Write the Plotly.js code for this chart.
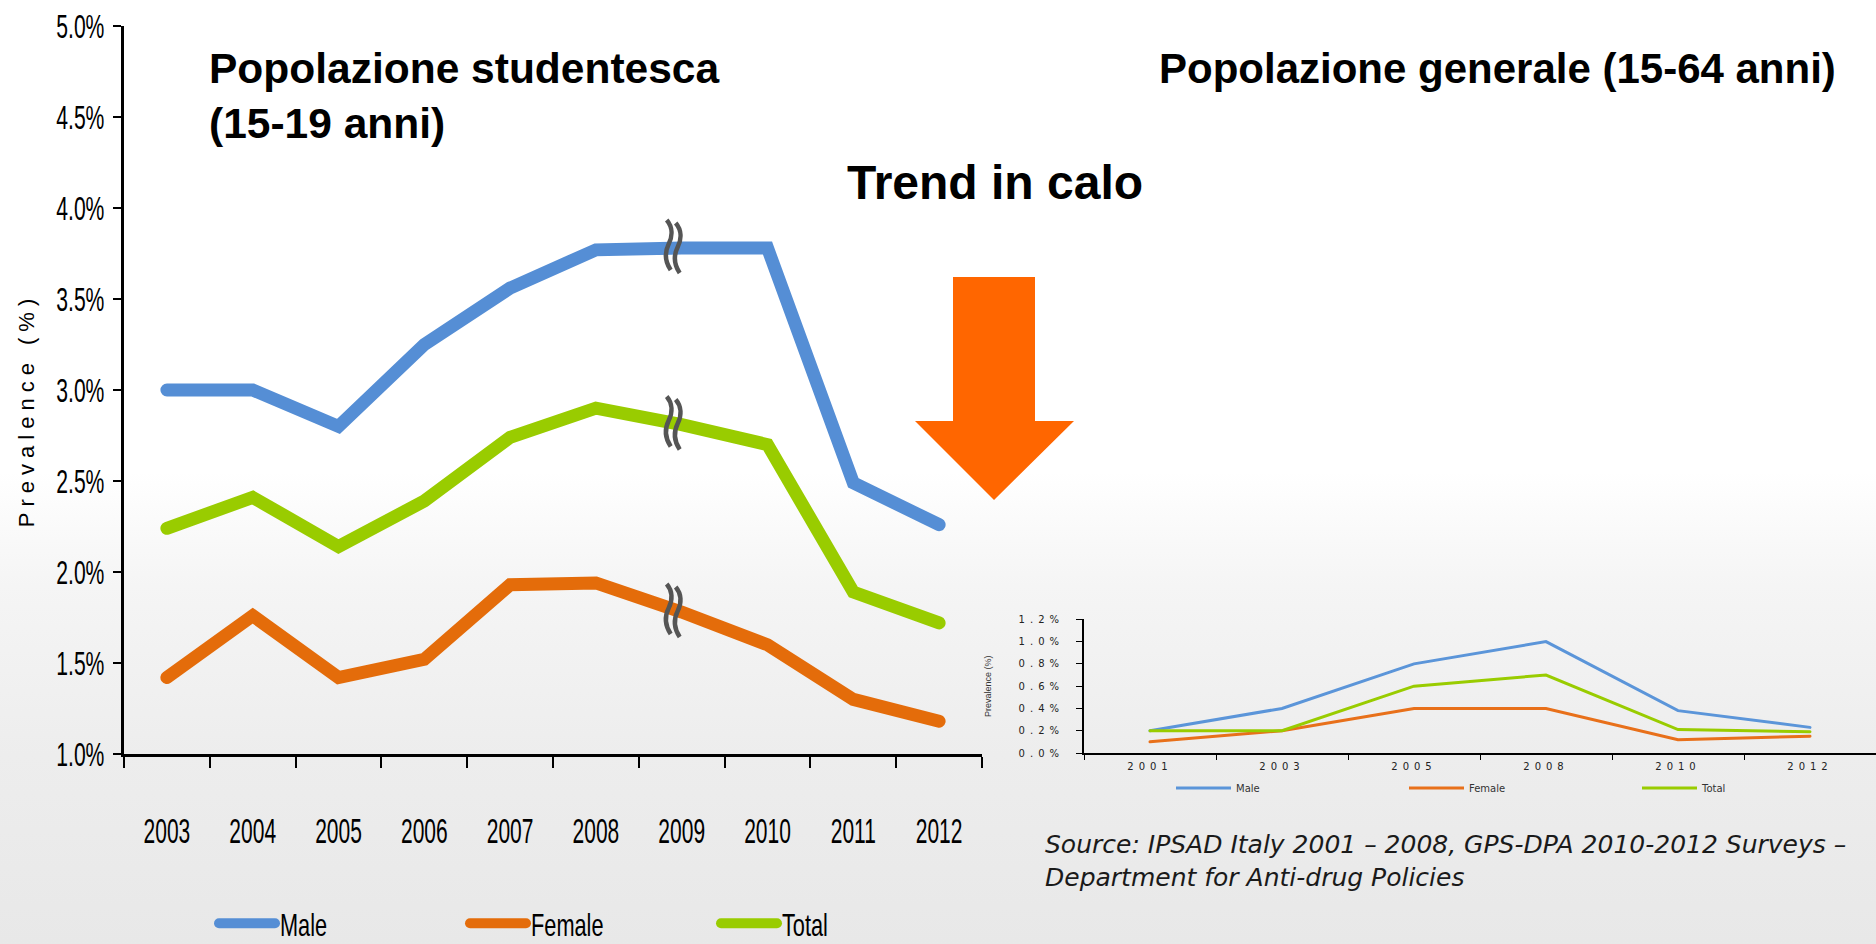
<!DOCTYPE html>
<html><head><meta charset="utf-8">
<script src="https://cdn.plot.ly/plotly-3.0.1.min.js"></script>
<style>
html,body{margin:0;padding:0;}
body{width:1876px;height:944px;overflow:hidden;background:linear-gradient(to bottom,#ffffff 0%,#ffffff 50%,#f5f5f5 62%,#ededed 80%,#e8e8e8 100%);}
#chart{width:1876px;height:944px;}
.ytitle{letter-spacing:6px;translate:0 20px;}
g.xtick{transform:scaleX(0.6);transform-box:fill-box;transform-origin:center center;}
g.ytick{transform:scaleX(0.64);transform-box:fill-box;transform-origin:right center;}
g.x2tick text,g.y2tick text{letter-spacing:5px;}
g.legend:not(.legend2) .legendtext{transform:translateY(7px) scaleX(0.68);transform-box:fill-box;transform-origin:left center;}
g.legend:not(.legend2) .legendlines path{transform:translateY(7px);stroke-linecap:round;}
.legend2 .legendtext{letter-spacing:4.5px;}
.scatterlayer .js-line{stroke-linecap:round;}
</style></head>
<body><div id="chart"></div>
<script>
// Main chart: student population (15-19)
const years = ['2003','2004','2005','2006','2007','2008','2009','2010','2011','2012'];
const male = [3.00,3.00,2.80,3.25,3.56,3.77,3.78,3.78,2.49,2.26];
const female = [1.42,1.76,1.42,1.52,1.93,1.94,1.78,1.60,1.30,1.18];
const total = [2.24,2.41,2.14,2.39,2.74,2.90,2.81,2.70,1.89,1.72];
const breakYear = '2009';

// Inset chart: general population (15-64)
const insetYears = ['2001','2003','2005','2008','2010','2012'];
const insetMale = [0.20,0.40,0.80,1.00,0.38,0.23];
const insetFemale = [0.10,0.20,0.40,0.40,0.12,0.15];
const insetTotal = [0.20,0.20,0.60,0.70,0.21,0.19];

const seriesNames = ['Male','Female','Total'];
const colors = ['#558ED5','#E46C0A','#99CC00'];
const insetColors = ['#5B95D9','#E8701A','#99CC00'];

const arial = 'Liberation Sans, Arial, sans-serif';
const dejavu = 'DejaVu Sans, Verdana, sans-serif';

const mainSeries = [male, female, total];
const insetSeries = [insetMale, insetFemale, insetTotal];

const traces = [];
mainSeries.forEach((s,i)=>{
  traces.push({type:'scatter',mode:'lines',x:years,y:s,name:seriesNames[i],
    line:{color:colors[i],width:13},xaxis:'x',yaxis:'y',legend:'legend',hoverinfo:'x+y+name'});
});
insetSeries.forEach((s,i)=>{
  traces.push({type:'scatter',mode:'lines',x:insetYears,y:s,name:seriesNames[i],
    line:{color:insetColors[i],width:3},xaxis:'x2',yaxis:'y2',legend:'legend2',hoverinfo:'x+y+name'});
});

// figure pixel -> paper fraction (margins are zero, so paper = whole figure)
const FW=1876, FH=944;
const px = v => v/FW;
const py = v => 1 - v/FH;

const annotations = [
  {text:'Popolazione studentesca<br>(15-19 anni)',xref:'paper',yref:'paper',x:px(207),y:py(96),
   xanchor:'left',yanchor:'middle',align:'left',showarrow:false,
   font:{family:arial,size:42.5,color:'#000',weight:'bold'}},
  {text:'Popolazione generale (15-64 anni)',xref:'paper',yref:'paper',x:px(1497),y:py(69),
   xanchor:'center',yanchor:'middle',showarrow:false,
   font:{family:arial,size:42,color:'#000',weight:'bold'}},
  {text:'Trend in calo',xref:'paper',yref:'paper',x:px(995),y:py(182),
   xanchor:'center',yanchor:'middle',showarrow:false,
   font:{family:arial,size:48,color:'#000',weight:'bold'}},
  {text:'Source: IPSAD Italy 2001 \u2013 2008, GPS-DPA 2010-2012 Surveys \u2013<br>Department for Anti-drug Policies',
   xref:'paper',yref:'paper',x:px(1043),y:py(861),xanchor:'left',yanchor:'middle',align:'left',showarrow:false,
   font:{family:dejavu,size:25,color:'#1a1a1a',style:'italic'}}
];

// axis-break squiggles drawn on each line at the break year (pixel-sized, anchored to data)
const squiggle = 'M-2,25 C4,18 4,9 0,1 C-4,-7 -4,-16 2,-25';
const shapes = [];
const bIdx = years.indexOf(breakYear);
mainSeries.forEach(s=>{
  [-13,-4].forEach((dx,k)=>{
    shapes.push({type:'path',xref:'x',yref:'y',xsizemode:'pixel',ysizemode:'pixel',
      xanchor:bIdx,yanchor:s[bIdx],
      path:squiggle.replace(/(-?\d+),(-?\d+)/g,(m,a,b)=>(+a+dx)+','+(+b+3-k*3)),
      line:{color:'#555555',width:4.5},fillcolor:'rgba(0,0,0,0)'});
  });
});
// orange arrow
shapes.push({type:'path',xref:'paper',yref:'paper',
   path:`M${px(953)},${py(277)} L${px(1035)},${py(277)} L${px(1035)},${py(421)} L${px(1074)},${py(421)} L${px(994)},${py(500)} L${px(915)},${py(421)} L${px(953)},${py(421)} Z`,
   fillcolor:'#FF6600',line:{width:0}});

const layout = {
  width:FW,height:FH,
  margin:{l:0,r:0,t:0,b:0,pad:0},
  paper_bgcolor:'rgba(0,0,0,0)',plot_bgcolor:'rgba(0,0,0,0)',
  showlegend:true,
  xaxis:{domain:[px(124),px(982)],type:'category',range:[-0.5,years.length-0.5],autorange:false,
    tickson:'boundaries',ticks:'outside',ticklen:11,tickwidth:2,tickcolor:'#000',
    showline:true,linecolor:'#000',linewidth:3,showgrid:false,zeroline:false,tickangle:0,
    tickfont:{family:arial,size:35,color:'#000'},ticklabelstandoff:44,anchor:'y'},
  yaxis:{domain:[py(754),py(26)],range:[1.0,5.0],autorange:false,dtick:0.5,tick0:1.0,tickformat:'.1f',ticksuffix:'%',
    ticks:'outside',ticklen:8,tickwidth:2,tickcolor:'#000',showline:true,linecolor:'#000',linewidth:3,
    showgrid:false,zeroline:false,tickfont:{family:arial,size:33,color:'#000'},ticklabelstandoff:2,
    title:{text:'Prevalence (%)',font:{family:arial,size:22,color:'#000'},standoff:16},anchor:'x'},
  xaxis2:{domain:[px(1084),1],type:'category',range:[-0.5,insetYears.length-0.5],autorange:false,
    tickson:'boundaries',ticks:'outside',ticklen:5,tickwidth:1,tickcolor:'#000',
    showline:true,linecolor:'#000',linewidth:2,showgrid:false,zeroline:false,tickangle:0,
    tickfont:{family:dejavu,size:10,color:'#222'},ticklabelstandoff:3,anchor:'y2'},
  yaxis2:{domain:[py(753),py(619.3)],range:[0,1.2],autorange:false,dtick:0.2,tickformat:'.1f',ticksuffix:'%',
    ticks:'outside',ticklen:6,tickwidth:1,tickcolor:'#000',showline:true,linecolor:'#000',linewidth:2,
    showgrid:false,zeroline:false,tickfont:{family:dejavu,size:10,color:'#222'},ticklabelstandoff:10,
    title:{text:'Prevalence (%)',font:{family:arial,size:9,color:'#333'},standoff:25},anchor:'x2'},
  legend:{orientation:'h',x:px(214),y:0,xanchor:'left',yanchor:'bottom',
    font:{family:arial,size:32,color:'#000'},entrywidth:180,entrywidthmode:'pixels',itemwidth:56,bgcolor:'rgba(0,0,0,0)'},
  legend2:{orientation:'h',x:px(1171),y:py(788),xanchor:'left',yanchor:'middle',
    font:{family:dejavu,size:10,color:'#333'},entrywidth:163,entrywidthmode:'pixels',itemwidth:55,bgcolor:'rgba(0,0,0,0)'},
  annotations:annotations,
  shapes:shapes
};

Plotly.newPlot('chart',traces,layout,{displayModeBar:false,staticPlot:true});
</script></body></html>
